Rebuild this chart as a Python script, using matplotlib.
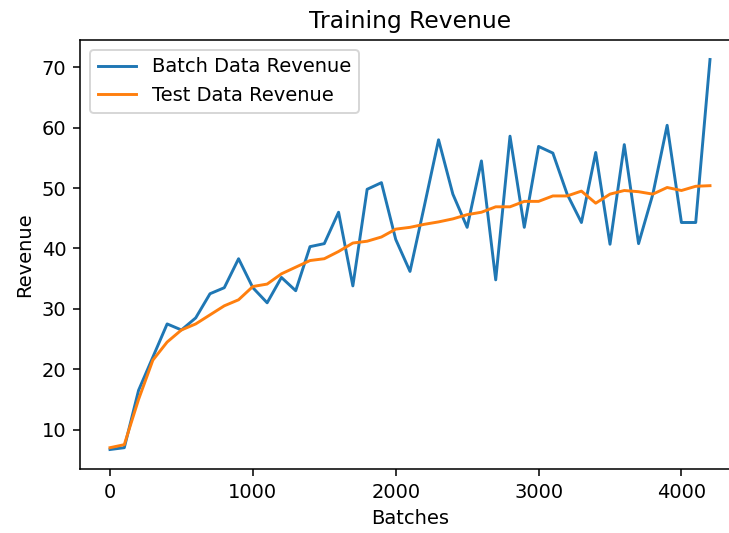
import matplotlib
matplotlib.use("Agg")
import matplotlib.pyplot as plt

batches = list(range(0, 4300, 100))

batch_revenue = [6.7, 7.0, 16.5, 22.0, 27.5, 26.5, 28.5, 32.5, 33.5, 38.3,
                 33.5, 31.0, 35.2, 33.0, 40.3, 40.8, 46.0, 33.8, 49.8, 50.9,
                 41.5, 36.2, 47.0, 58.0, 49.0, 43.5, 54.5, 34.8, 58.6, 43.5,
                 56.9, 55.8, 49.0, 44.3, 55.9, 40.7, 57.2, 40.8, 49.0, 60.4,
                 44.3, 44.3, 71.3]

test_revenue = [7.0, 7.5, 15.0, 21.5, 24.5, 26.5, 27.5, 29.0, 30.5, 31.5,
                33.7, 34.1, 35.8, 36.9, 38.0, 38.3, 39.5, 40.9, 41.2, 41.9,
                43.2, 43.5, 44.0, 44.4, 44.9, 45.6, 46.0, 46.9, 46.9, 47.8,
                47.8, 48.7, 48.7, 49.5, 47.5, 49.0, 49.6, 49.4, 49.0, 50.1,
                49.6, 50.3, 50.4]

# figura al tamaño de la referencia (el borde derecho queda recortado)
fig = plt.figure(figsize=(729 / 140, 533 / 140), dpi=140)
ax = fig.add_axes([80 / 729, 1 - 469 / 533, 660 / 729, 429 / 533])

ax.plot(batches, batch_revenue, label='Batch Data Revenue')
ax.plot(batches, test_revenue, label='Test Data Revenue')

ax.set_title('Training Revenue')
ax.set_xlabel('Batches')
ax.set_ylabel('Revenue')
ax.legend(loc='upper left')

# el borde derecho no se ve en la referencia
ax.spines['right'].set_visible(False)

fig.savefig('out.png', dpi=140)
